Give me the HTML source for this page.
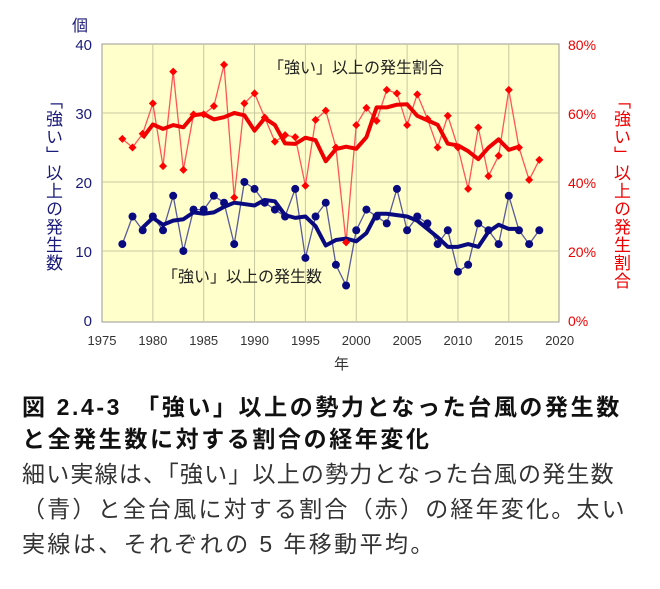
<!DOCTYPE html>
<html><head><meta charset="utf-8"><style>
body{margin:0;background:#fff;width:660px;height:589px;overflow:hidden;font-family:"Liberation Sans","Noto Sans CJK JP",sans-serif;position:relative}
.v{position:absolute;writing-mode:vertical-rl;font-size:17px;letter-spacing:1px}
.t{position:absolute;white-space:nowrap}
</style></head><body>
<svg id="c" width="660" height="380" style="position:absolute;left:0;top:0" font-family="Liberation Sans, Noto Sans CJK JP, sans-serif"></svg>
<div class="v" style="left:40px;top:92px;color:#1a1a7a">「強い」以上の発生数</div>
<div class="v" style="left:608px;top:92px;color:#e00">「強い」以上の発生割合</div>
<div class="t" style="left:22px;top:388px;font-size:23px;letter-spacing:2.6px;font-weight:bold;color:#111">図 2.4-3　「強い」以上の勢力となった台風の発生数</div>
<div class="t" style="left:22px;top:420px;font-size:23px;letter-spacing:2.6px;font-weight:bold;color:#111">と全発生数に対する割合の経年変化</div>
<div class="t" style="left:22px;top:455px;font-size:23px;letter-spacing:1.2px;color:#333">細い実線は、「強い」以上の勢力となった台風の発生数</div>
<div class="t" style="left:22px;top:490px;font-size:23px;letter-spacing:2.2px;color:#333">（青）と全台風に対する割合（赤）の経年変化。太い</div>
<div class="t" style="left:22px;top:525px;font-size:23px;letter-spacing:2.4px;color:#333">実線は、それぞれの 5 年移動平均。</div>
<script>
const N=[11,15,13,15,13,18,10,16,16,18,17,11,20,19,17,16,15,19,9,15,17,8,5,13,16,15,14,19,13,15,14,11,13,7,8,14,13,11,18,13,11,13];
const R=[52.5,50,54,62.8,44.6,72,43.5,59.6,59.6,62,74,35.5,62.8,65.7,58.7,51.7,53.6,53,38.9,58,60.7,50,22.5,56.5,61.5,57.7,66.7,65.7,56.5,65.4,58.3,50,59.2,50,38,55.8,41.7,47.6,66.7,50,40.6,46.4];
const X=y=>102+(y-1975)*10.17, YL=v=>320-v*6.9, YR=p=>320-p*3.45;
let s='<rect x="102" y="44" width="457" height="278" fill="#ffffcc" stroke="#999"/>';
for(let y=1980;y<2020;y+=5)s+=`<line x1="${X(y)}" y1="44" x2="${X(y)}" y2="322" stroke="#c8c8a0"/>`;
for(let v=10;v<40;v+=10)s+=`<line x1="102" y1="${YL(v)}" x2="559" y2="${YL(v)}" stroke="#c8c8a0"/>`;
for(let y=1975;y<=2020;y+=5)s+=`<text x="${X(y)}" y="345" font-size="13" text-anchor="middle" fill="#333">${y}</text>`;
for(let v=0;v<=40;v+=10)s+=`<text x="92" y="${YL(v)+6}" font-size="15" text-anchor="end" fill="#1a1a7a">${v}</text>`;
for(let p=0;p<=80;p+=20)s+=`<text x="568" y="${YR(p)+6}" font-size="14" fill="#e00">${p}%</text>`;
s+=`<text x="72" y="31" font-size="16" fill="#1a1a7a">個</text><text x="334" y="369" font-size="15" fill="#333">年</text>`;
s+=`<text x="268" y="73" font-size="16" fill="#222">「強い」以上の発生割合</text><text x="162" y="282" font-size="16" fill="#222">「強い」以上の発生数</text>`;
function pl(a,f,c,w){return `<polyline fill="none" stroke="${c}" stroke-width="${w}" stroke-linejoin="round" points="${a.map((v,i)=>X(1977+i)+','+f(v)).join(' ')}"/>`}
function ma(a){let o=[];for(let i=2;i<a.length-2;i++)o.push((a[i-2]+a[i-1]+a[i]+a[i+1]+a[i+2])/5);return o}
function pm(a,f,c,w){return `<polyline fill="none" stroke="${c}" stroke-width="${w}" stroke-linejoin="round" points="${a.map((v,i)=>X(1979+i)+','+f(v)).join(' ')}"/>`}
s+=pl(R,YR,'#f55',1.3);s+=pl(N,YL,'#5a5a9a',1.3);
s+=pm(ma(R),YR,'#e00',4);s+=pm(ma(N),YL,'#0a0a80',4);
R.forEach((v,i)=>{let x=X(1977+i),y=YR(v);s+=`<polygon points="${x},${y-4} ${x+4},${y} ${x},${y+4} ${x-4},${y}" fill="#f00"/>`});
N.forEach((v,i)=>{s+=`<circle cx="${X(1977+i)}" cy="${YL(v)}" r="4" fill="#0a0a80"/>`});
document.getElementById('c').innerHTML=s;
</script>
</body></html>
